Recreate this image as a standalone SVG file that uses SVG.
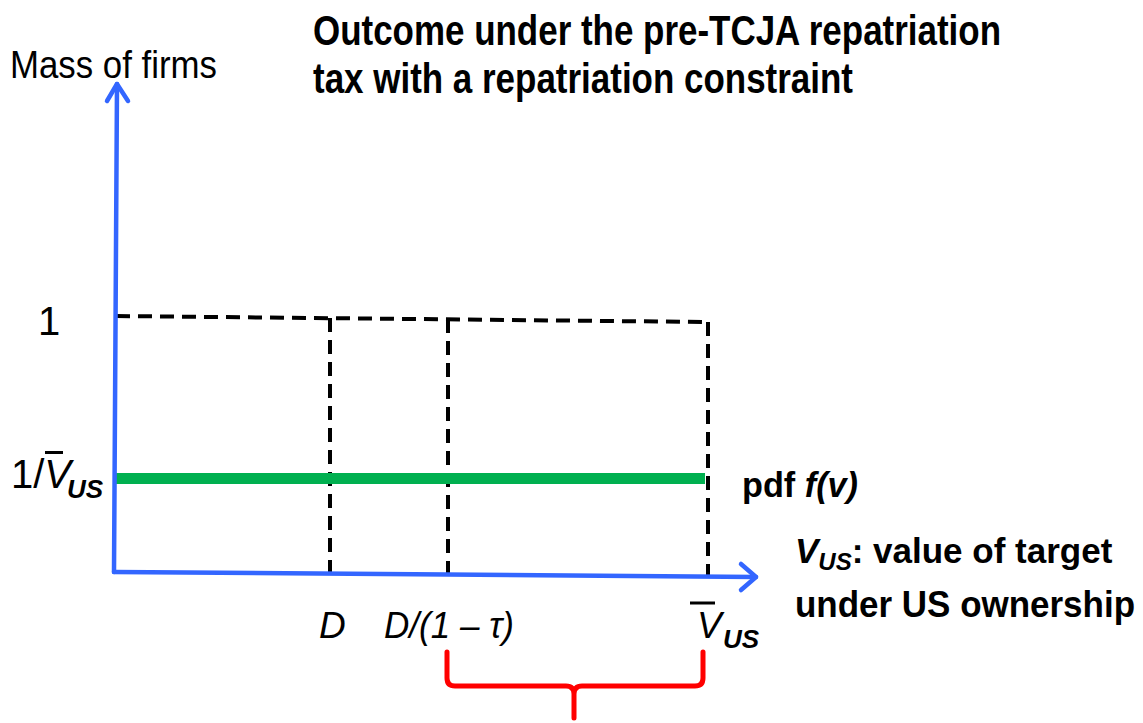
<svg xmlns="http://www.w3.org/2000/svg" width="1143" height="723" viewBox="0 0 1143 723">
<style>
.ax{stroke:#3366ff;stroke-width:4.5;fill:none;stroke-linecap:round;stroke-linejoin:round}
.dash{stroke:#000;stroke-width:4;stroke-dasharray:14,8;fill:none}
.t{font-family:"Liberation Sans Narrow","Liberation Sans",Arial,sans-serif;fill:#000}
.b{font-weight:bold}
.i{font-style:italic}
</style>
<rect width="1143" height="723" fill="#fff"/>
<g id="title">
<text class="t b" x="313" y="45" font-size="42" textLength="688" lengthAdjust="spacingAndGlyphs">Outcome under the pre-TCJA repatriation</text>
<text class="t b" x="313" y="93" font-size="42" textLength="540" lengthAdjust="spacingAndGlyphs">tax with a repatriation constraint</text>
</g>
<g id="connectors">
<path class="dash" d="M116 316 L708 322"/>
<path class="dash" d="M330 318 L330 572"/>
<path class="dash" d="M448 319 L448 574"/>
<path class="dash" d="M708 322 L708 576"/>
<path d="M115 478.5 L705 478.5" stroke="#00b050" stroke-width="11" fill="none"/>
<path class="ax" d="M114 572 L117 84"/>
<path class="ax" d="M107 101 L117 84 L128 101"/>
<path class="ax" d="M114 572 L756 577"/>
<path class="ax" d="M741 564 L756 577 L741 590"/>
<path d="M447 652 L447 678 Q447 686 455 686 L566 686 Q574 686 574 694 L574 718 M574 694 Q574 686 582 686 L695 686 Q703 686 703 678 L703 652" stroke="#ff0000" stroke-width="5" fill="none" stroke-linecap="round"/>
</g>
<g id="ylabel">
<text class="t" x="10" y="78" font-size="38" textLength="207" lengthAdjust="spacingAndGlyphs">Mass of firms</text>
</g>
<g id="label-1">
<text class="t" x="38" y="335" font-size="40">1</text>
</g>
<g id="label-inv">
<text class="t" x="11" y="488" font-size="40">1/<tspan class="i">V</tspan></text>
<text class="t b i" x="67" y="498" font-size="26">US</text>
<path d="M45 452.5 L63 452.5" stroke="#000" stroke-width="3"/>
</g>
<g id="label-pdf">
<text class="t b" x="742" y="497" font-size="35" textLength="116" lengthAdjust="spacingAndGlyphs">pdf <tspan class="i">f(v)</tspan></text>
</g>
<g id="label-x">
<text class="t b" x="795" y="563" font-size="35"><tspan class="i">V</tspan><tspan class="i" font-size="24" dy="7">US</tspan><tspan dy="-7">: value of target</tspan></text>
<text class="t b" x="795" y="617" font-size="36" textLength="340" lengthAdjust="spacingAndGlyphs">under US ownership</text>
</g>
<g id="label-D">
<text class="t i" x="319" y="638" font-size="37">D</text>
</g>
<g id="label-Dtau">
<text class="t i" x="384" y="638" font-size="37" textLength="130" lengthAdjust="spacingAndGlyphs">D/(1 – τ)</text>
</g>
<g id="label-Vbar">
<text class="t i" x="697" y="638" font-size="37">V</text>
<text class="t b i" x="723" y="648" font-size="26">US</text>
<path d="M690 603 L715 603" stroke="#000" stroke-width="3"/>
</g>
</svg>
